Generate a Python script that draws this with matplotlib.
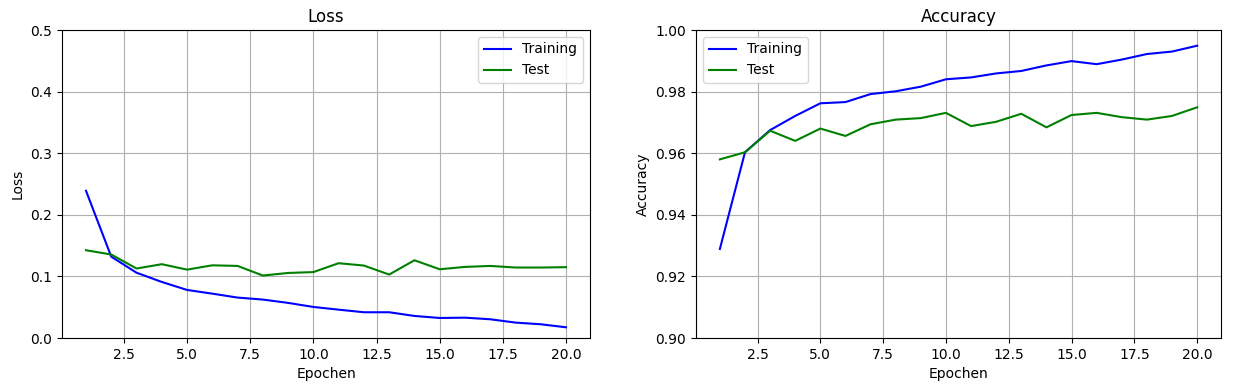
import matplotlib
matplotlib.use("Agg")
import matplotlib.pyplot as plt

epochs = list(range(1, 21))
train_loss = [0.239, 0.132, 0.106, 0.091, 0.078, 0.072, 0.0656, 0.0624, 0.057, 0.0504,
              0.046, 0.0418, 0.0418, 0.0358, 0.0325, 0.033, 0.0304, 0.025, 0.0223, 0.0174]
test_loss = [0.1425, 0.1355, 0.1128, 0.1198, 0.111, 0.118, 0.117, 0.1014, 0.1056, 0.107,
             0.1214, 0.1176, 0.103, 0.1262, 0.1116, 0.1154, 0.117, 0.1144, 0.1144, 0.115]
train_acc = [0.9289, 0.9603, 0.9675, 0.9721, 0.9762, 0.9766, 0.9792, 0.9801, 0.9816, 0.9840,
             0.9846, 0.9859, 0.9867, 0.9885, 0.9899, 0.9889, 0.9904, 0.9922, 0.9930, 0.9949]
test_acc = [0.9580, 0.9603, 0.9673, 0.9640, 0.9680, 0.9656, 0.9694, 0.9709, 0.9714, 0.9731,
            0.9688, 0.9702, 0.9728, 0.9684, 0.9724, 0.9731, 0.9717, 0.9709, 0.9721, 0.9749]

fig = plt.figure(figsize=(12.33, 3.91), dpi=100)
ax1 = fig.add_axes([62/1233, 53/391, 528/1233, 308/391])
ax2 = fig.add_axes([696/1233, 53/391, 525/1233, 308/391])

ax1.plot(epochs, train_loss, color='blue', label='Training')
ax1.plot(epochs, test_loss, color='green', label='Test')
ax1.set_title('Loss')
ax1.set_xlabel('Epochen')
ax1.set_ylabel('Loss')
ax1.set_ylim(0, 0.5)
ax1.grid(True)
ax1.legend(loc='upper right')

ax2.plot(epochs, train_acc, color='blue', label='Training')
ax2.plot(epochs, test_acc, color='green', label='Test')
ax2.set_title('Accuracy')
ax2.set_xlabel('Epochen')
ax2.set_ylabel('Accuracy')
ax2.set_ylim(0.9, 1.0)
ax2.grid(True)
ax2.legend(loc='upper left')

fig.savefig('out.png', dpi=100)
